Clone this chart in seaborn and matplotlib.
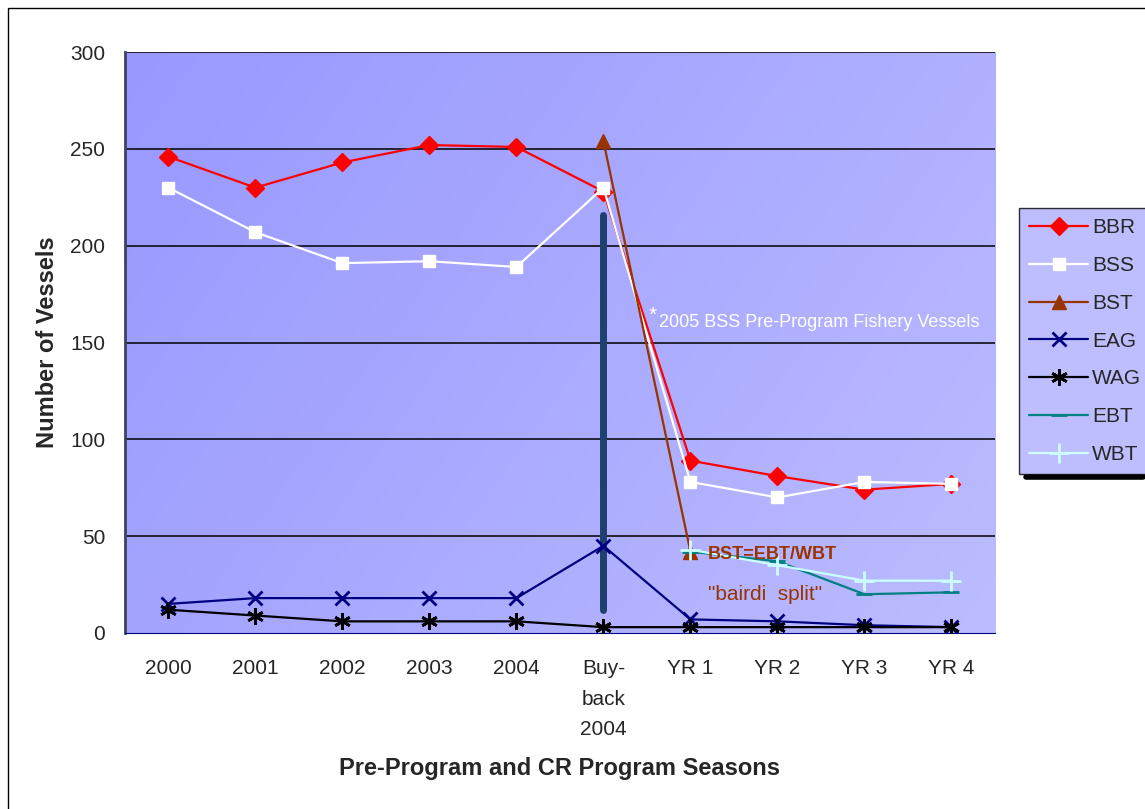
import numpy as np
import pandas as pd
import matplotlib.pyplot as plt
import seaborn as sns
from matplotlib.colors import LinearSegmentedColormap
from matplotlib.lines import Line2D

# Saisons (axe des x)
seasons = ['2000', '2001', '2002', '2003', '2004', 'Buy-\nback\n2004', 'YR 1', 'YR 2', 'YR 3', 'YR 4']

# Nombre de navires par pêcherie (None = pas de valeur)
bbr = [246, 230, 243, 252, 251, 228, 89, 81, 74, 77]
bss = [230, 207, 191, 192, 189, 230, 78, 70, 78, 77]
bst = [None, None, None, None, None, 254, 42, None, None, None]
eag = [15, 18, 18, 18, 18, 45, 7, 6, 4, 3]
wag = [12, 9, 6, 6, 6, 3, 3, 3, 3, 3]
ebt = [None, None, None, None, None, None, 42, 37, 20, 21]
wbt = [None, None, None, None, None, None, 43, 35, 27, 27]

# barre verticale "buy-back"
buyback_bar = (12, 216)

series = {'BBR': bbr, 'BSS': bss, 'BST': bst, 'EAG': eag, 'WAG': wag, 'EBT': ebt, 'WBT': wbt}
styles = {
    'BBR': dict(color='#FF0000', marker='D', ms=9),
    'BSS': dict(color='#FFFFFF', marker='s', ms=9),
    'BST': dict(color='#993300', marker='^', ms=10),
    'EAG': dict(color='#000080', marker='x', ms=10),
    'WAG': dict(color='#000000', marker=(6, 2, 0), ms=12),
    'EBT': dict(color='#008080', marker='_', ms=12),
    'WBT': dict(color='#CCFFFF', marker='+', ms=14),
}

rows = []
for name, vals in series.items():
    for i, v in enumerate(vals):
        if v is not None:
            rows.append({'x': i, 'Vessels': v, 'Series': name})
df = pd.DataFrame(rows)

sns.set_style('white')
plt.rcParams['font.family'] = ['Liberation Sans', 'DejaVu Sans']

fig = plt.figure(figsize=(11.45, 8.09), dpi=100)
ax = fig.add_axes([0.109, 0.2176, 0.76, 0.718])

# fond en dégradé
cmap = LinearSegmentedColormap.from_list('bg', ['#9898FF', '#BCBCFF'])
gx, gy = np.meshgrid(np.linspace(0, 1, 200), np.linspace(0, 1, 200))
grad = 0.75 * gx + 0.35 * gy
ax.imshow(grad, extent=[0, 1, 0, 1], transform=ax.transAxes, cmap=cmap,
          aspect='auto', zorder=0, origin='upper')

for y in range(50, 301, 50):
    ax.axhline(y, color='black', lw=1.1, zorder=1)

ax.plot([5, 5], buyback_bar, color='#1F3F6F', lw=5, solid_capstyle='round', zorder=2)

handles = []
for name in series:
    st = styles[name]
    sub = df[df.Series == name]
    mew = 2 if name in ('EAG', 'WAG', 'WBT', 'EBT') else 1
    sns.lineplot(data=sub, x='x', y='Vessels', ax=ax, color=st['color'], lw=1.6,
                 marker=st['marker'], markersize=st['ms'], markeredgecolor=st['color'],
                 markeredgewidth=mew, zorder=3)
    handles.append(Line2D([], [], color=st['color'], lw=1.6, marker=st['marker'],
                          markersize=st['ms'], markeredgecolor=st['color'],
                          markeredgewidth=mew))

ax.set_xlim(-0.5, 9.5)
ax.set_ylim(0, 300)
ax.set_xticks(range(len(seasons)))
ax.set_xticklabels(seasons, fontsize=15, linespacing=1.75, va='top')
ax.set_xticks(np.arange(-0.5, 10, 1), minor=True)
ax.tick_params(axis='x', which='major', length=0, pad=19)
ax.tick_params(axis='x', which='minor', length=6, color='#000080', direction='out')
ax.set_yticks(range(0, 301, 50))
ax.tick_params(axis='y', labelsize=15, length=6, pad=8, direction='out', color='#333355')
ax.set_xlabel('Pre-Program and CR Program Seasons', fontsize=17, fontweight='bold', labelpad=13)
ax.set_ylabel('Number of Vessels', fontsize=17, fontweight='bold', labelpad=8)

for s in ['top', 'right']:
    ax.spines[s].set_visible(False)
ax.spines['left'].set_color('#404060')
ax.spines['left'].set_linewidth(2)
ax.spines['bottom'].set_color('#000080')

ax.text(5.52, 161, '*', color='white', fontsize=15, zorder=4)
ax.text(5.64, 158, '2005 BSS Pre-Program Fishery Vessels', color='white', fontsize=13, zorder=4)
ax.text(6.2, 38, 'BST=EBT/WBT', color='#993300', fontsize=13, fontweight='bold', zorder=4)
ax.text(6.2, 17, '"bairdi  split"', color='#993300', fontsize=15, zorder=4)

leg = fig.legend(handles, list(series), loc='upper left', bbox_to_anchor=(0.89, 0.743),
                 frameon=True, fontsize=15, handlelength=2.8, labelspacing=0.9,
                 borderpad=0.5, borderaxespad=0, handletextpad=0.2, fancybox=False)
leg.get_frame().set_facecolor('#AEAEFF')
leg.get_frame().set_edgecolor('black')
fig.add_artist(Line2D([0.896, 0.998], [0.41, 0.41], transform=fig.transFigure,
                      color='black', lw=4))

# bordure de la figure
fig.add_artist(plt.Rectangle((0.007, -0.1), 1.2, 1.09, transform=fig.transFigure,
                             fill=False, edgecolor='black', lw=1))

fig.savefig('out.png', dpi=100)
